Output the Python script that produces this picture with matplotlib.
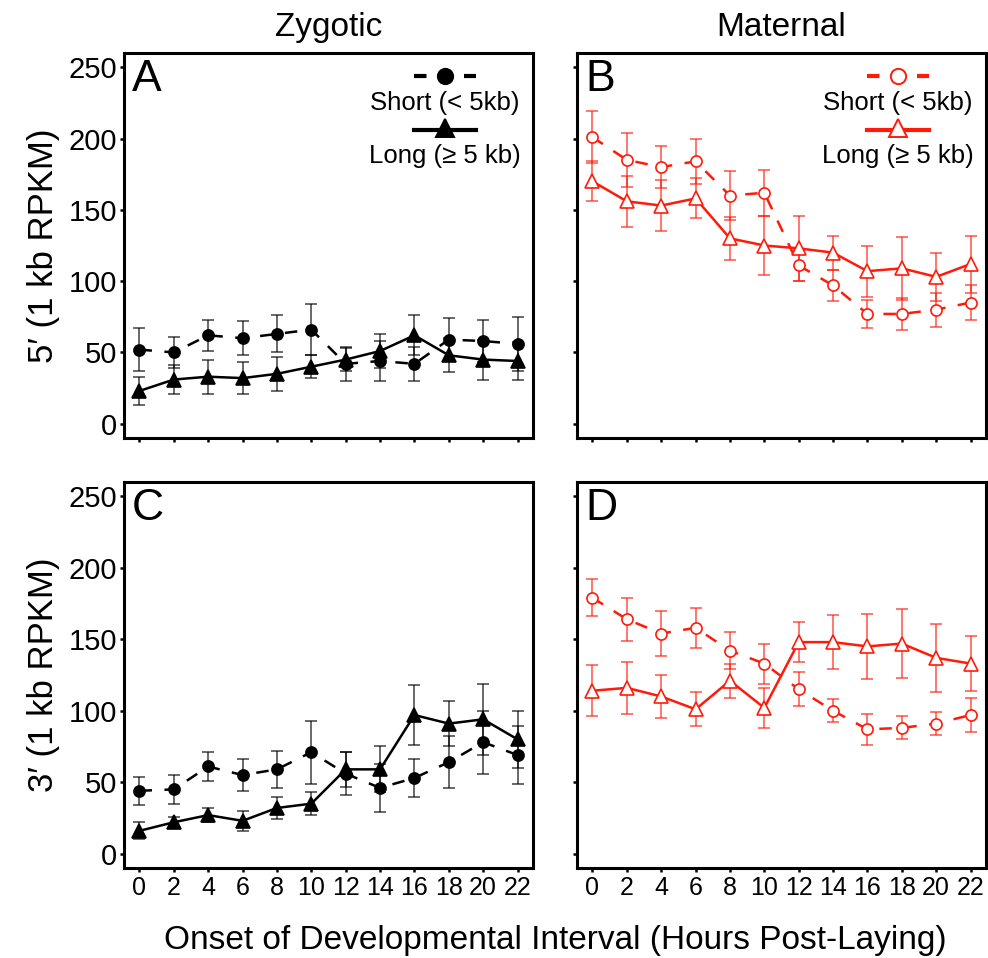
import numpy as np
import matplotlib
matplotlib.use("Agg")
import matplotlib.pyplot as plt

plt.rcParams.update({
    "font.family": ["Liberation Sans", "DejaVu Sans"],
    "axes.linewidth": 2.2,
    "xtick.major.width": 1.8,
    "ytick.major.width": 1.8,
    "xtick.major.size": 3,
    "ytick.major.size": 3,
    "xtick.direction": "out",
    "ytick.direction": "out",
})

# ── Data ──────────────────────────────────────────────────────────────────────
hours = [0, 2, 4, 6, 8, 10, 12, 14, 16, 18, 20, 22]

# A: zygotic 5'
zyg5_short     = [52, 50, 62, 60, 63, 66, 42, 44, 42, 59, 58, 56]
zyg5_short_err = [15, 11, 11, 12, 13, 18, 12, 14, 12, 15, 15, 19]
zyg5_long      = [23, 31, 33, 32, 35, 40, 45, 51, 62, 48, 45, 44]
zyg5_long_err  = [10, 10, 12, 11, 12, 8, 8, 12, 14, 12, 14, 13]

# B: maternal 5'
mat5_short     = [201, 185, 180, 184, 160, 162, 111, 97, 77, 77, 80, 85]
mat5_short_err = [18, 19, 15, 16, 17, 16, 11, 11, 10, 11, 12, 12]
mat5_long      = [170, 156, 153, 158, 130, 125, 123, 120, 107, 109, 103, 112]
mat5_long_err  = [14, 18, 18, 14, 15, 21, 23, 12, 18, 22, 17, 20]

# C: zygotic 3'
zyg3_short     = [44, 45, 61, 55, 59, 71, 56, 46, 53, 64, 78, 69]
zyg3_short_err = [10, 10, 10, 11, 13, 22, 15, 17, 13, 18, 22, 20]
zyg3_long      = [16, 22, 27, 23, 32, 35, 59, 59, 97, 91, 94, 80]
zyg3_long_err  = [6, 4, 5, 7, 8, 8, 12, 16, 21, 16, 25, 20]

# D: maternal 3'
mat3_short     = [179, 164, 154, 158, 142, 133, 115, 100, 87, 88, 91, 97]
mat3_short_err = [13, 15, 16, 14, 13, 14, 12, 8, 11, 8, 8, 12]
mat3_long      = [114, 116, 110, 101, 121, 102, 148, 148, 145, 147, 137, 133]
mat3_long_err  = [18, 18, 15, 12, 12, 14, 14, 19, 23, 24, 24, 19]

RED = "#FF1A0A"

fig = plt.figure(figsize=(9.88, 9.58), dpi=100)
W, H = 988, 958

def make_ax(x0, y0, x1, y1):
    return fig.add_axes([x0 / W, 1 - y1 / H, (x1 - x0) / W, (y1 - y0) / H])

axA = make_ax(124, 53, 533, 438)
axB = make_ax(577, 53, 986, 438)
axC = make_ax(124, 482, 533, 868)
axD = make_ax(577, 482, 986, 868)


def draw(ax, short, short_err, long_, long_err, colour, filled):
    face = colour if filled else "white"
    ax.errorbar(hours, short, yerr=short_err, fmt="none", ecolor=colour,
                elinewidth=1.1, capsize=4, capthick=1.1, alpha=0.75, zorder=2)
    ax.errorbar(hours, long_, yerr=long_err, fmt="none", ecolor=colour,
                elinewidth=1.1, capsize=4, capthick=1.1, alpha=0.75, zorder=2)
    ax.plot(hours, short, color=colour, lw=1.8, dashes=(5, 5),
            marker="o", markersize=8, markerfacecolor=face,
            markeredgecolor=colour, markeredgewidth=1.2, zorder=3)
    ax.plot(hours, long_, color=colour, lw=1.8, linestyle="-",
            marker="^", markersize=10, markerfacecolor=face,
            markeredgecolor=colour, markeredgewidth=1.2, zorder=3)


def legend(ax, colour, filled):
    face = colour if filled else "white"
    tr = ax.transAxes
    ax.plot([0.71, 0.86], [0.94, 0.94], transform=tr, color=colour, lw=3,
            dashes=(3, 3), clip_on=False)
    ax.plot([0.785], [0.94], transform=tr, marker="o", markersize=11,
            markerfacecolor=face, markeredgecolor=colour, markeredgewidth=1.4,
            clip_on=False)
    ax.text(0.785, 0.871, "Short (< 5kb)", transform=tr, ha="center",
            va="center", fontsize=18.5)
    ax.plot([0.71, 0.86], [0.80, 0.80], transform=tr, color=colour, lw=3,
            clip_on=False)
    ax.plot([0.785], [0.805], transform=tr, marker="^", markersize=13,
            markerfacecolor=face, markeredgecolor=colour, markeredgewidth=1.4,
            clip_on=False)
    ax.text(0.785, 0.733, "Long (≥ 5 kb)", transform=tr, ha="center",
            va="center", fontsize=18.5)


draw(axA, zyg5_short, zyg5_short_err, zyg5_long, zyg5_long_err, "black", True)
draw(axB, mat5_short, mat5_short_err, mat5_long, mat5_long_err, RED, False)
draw(axC, zyg3_short, zyg3_short_err, zyg3_long, zyg3_long_err, "black", True)
draw(axD, mat3_short, mat3_short_err, mat3_long, mat3_long_err, RED, False)

legend(axA, "black", True)
legend(axB, RED, False)

for ax, letter in zip([axA, axB, axC, axD], "ABCD"):
    ax.set_xlim(-0.9, 22.9)
    ax.set_ylim(-10, 260)
    ax.set_xticks(hours)
    ax.set_yticks([0, 50, 100, 150, 200, 250])
    ax.tick_params(axis="y", labelsize=21, pad=2)
    ax.tick_params(axis="x", labelsize=18, pad=3)
    ax.text(0.02, 0.985, letter, transform=ax.transAxes, ha="left", va="top",
            fontsize=32)

for ax in [axA, axB]:
    ax.tick_params(axis="x", labelbottom=False)
for ax in [axB, axD]:
    ax.tick_params(axis="y", labelleft=False)

axA.set_title("Zygotic", fontsize=24, pad=12)
axB.set_title("Maternal", fontsize=24, pad=12)
axA.set_ylabel("5′ (1 kb RPKM)", fontsize=25, labelpad=6)
axC.set_ylabel("3′ (1 kb RPKM)", fontsize=25, labelpad=6)

fig.text(555 / W, 1 - 940 / H, "Onset of Developmental Interval (Hours Post-Laying)",
         ha="center", va="center", fontsize=24)

fig.savefig("out.png", dpi=100)
